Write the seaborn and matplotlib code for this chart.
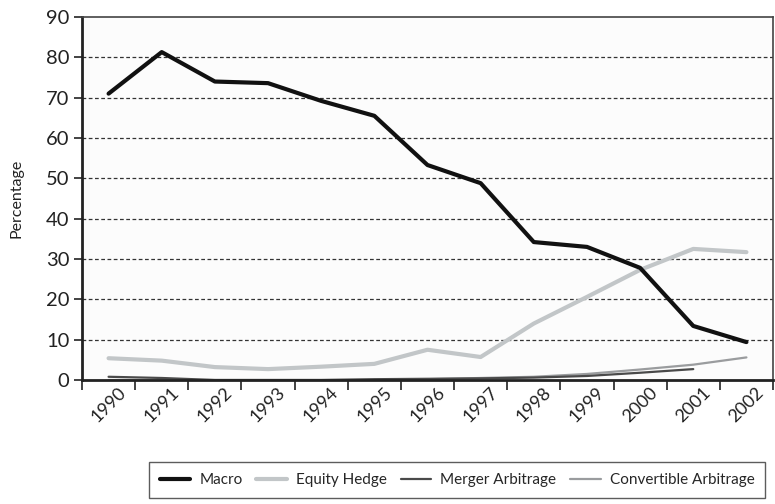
import matplotlib
matplotlib.use("Agg")
import matplotlib.pyplot as plt
from matplotlib.lines import Line2D
import seaborn as sns
import pandas as pd
import numpy as np

years = ["1990", "1991", "1992", "1993", "1994", "1995", "1996",
         "1997", "1998", "1999", "2000", "2001", "2002"]
macro = [71.0, 81.3, 74.0, 73.6, 69.2, 65.5, 53.3, 48.8, 34.2, 33.0, 27.8, 13.4, 9.4]
equity_hedge = [5.4, 4.8, 3.2, 2.7, 3.3, 4.0, 7.5, 5.7, 14.0, 20.6, 27.3, 32.5, 31.7]
merger_arb = [0.8, 0.5, 0.0, 0.0, 0.0, 0.2, 0.3, 0.4, 0.6, 1.0, 1.8, 2.7, np.nan]
convertible_arb = [0.0, 0.0, 0.0, 0.0, 0.0, 0.0, 0.2, 0.5, 0.8, 1.5, 2.6, 3.8, 5.6]

series_names = ["Macro", "Equity Hedge", "Merger Arbitrage", "Convertible Arbitrage"]
series_vals = [macro, equity_hedge, merger_arb, convertible_arb]
colors = ["#111111", "#c2c6c8", "#4a4a4a", "#9a9c9e"]
widths = [3.0, 3.0, 1.6, 1.6]

sns.set_theme(style="white")
plt.rcParams["font.family"] = ["Lato", "DejaVu Sans"]

fig = plt.figure(figsize=(7.75, 5.04), dpi=100)
ax = fig.add_axes([82 / 775, 1 - 380 / 504, (773 - 82) / 775, (380 - 17) / 504])

idx = np.arange(len(years))
order = [3, 2, 1, 0]
for i in order:
    df = pd.DataFrame({"x": idx, "y": series_vals[i]}).dropna()
    sns.lineplot(data=df, x="x", y="y", ax=ax, color=colors[i], linewidth=widths[i],
                 estimator=None, legend=False, zorder=3 + (3 - i))

ax.set_xlim(-0.5, len(years) - 0.5)
ax.set_ylim(0, 90)
ax.set_yticks(np.arange(0, 91, 10))
ax.set_yticklabels([str(v) for v in range(0, 91, 10)], fontsize=14.5, color="#222222")
ax.set_xticks(idx)
ax.set_xticklabels(years, rotation=45, ha="center", fontsize=13, color="#222222")
ax.tick_params(axis="x", which="major", length=0, pad=3)
ax.set_xticks(np.arange(-0.5, len(years), 1.0), minor=True)
ax.tick_params(axis="x", which="minor", length=7, width=1.2, color="#222222", direction="out", bottom=True)
ax.tick_params(axis="y", which="major", length=6, width=1.2, color="#222222", direction="out", left=True, pad=3)

for yv in range(10, 90, 10):
    ax.axhline(yv, color="#333333", linestyle=(0, (3, 2)), linewidth=0.9, zorder=1)

for side in ["left", "bottom"]:
    ax.spines[side].set_color("#222222")
    ax.spines[side].set_linewidth(2.0)
for side in ["top", "right"]:
    ax.spines[side].set_color("#444444")
    ax.spines[side].set_linewidth(1.2)
for s in ax.spines.values():
    s.set_zorder(10)

ax.set_xlabel("")
ax.set_ylabel("Percentage", fontsize=11.5, color="#222222", labelpad=16)
ax.set_facecolor("#fcfcfc")

handles = [Line2D([0], [0], color=c, linewidth=w) for c, w in zip(colors, widths)]
leg = fig.legend(handles, series_names, loc="center right", bbox_to_anchor=(773 / 775, 1 - 480 / 504),
                 ncol=4, frameon=True, fancybox=False, fontsize=11.0, handlelength=2.0,
                 columnspacing=0.9, handletextpad=0.6, borderpad=0.7)
leg.get_frame().set_edgecolor("#333333")
leg.get_frame().set_linewidth(1.0)

fig.savefig("out.png", dpi=100)
